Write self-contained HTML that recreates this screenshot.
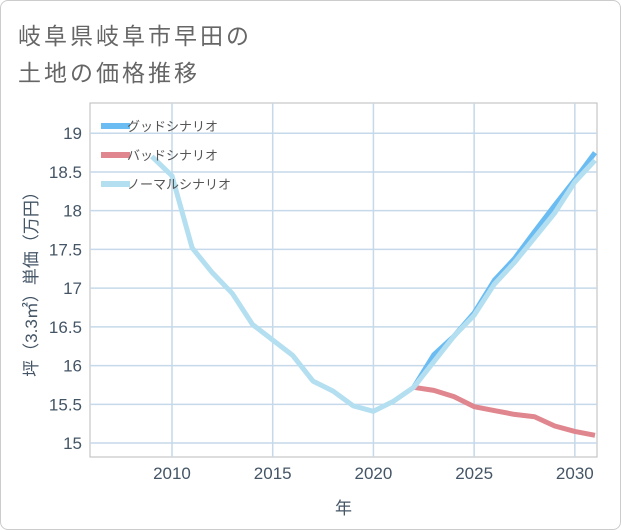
<!DOCTYPE html>
<html><head><meta charset="utf-8"><style>
body{margin:0;background:#fff;}
#wrap{position:relative;width:619px;height:528px;border:1px solid #ccc;border-radius:8px;background:#fff;overflow:hidden;font-family:"Liberation Sans","Noto Sans CJK JP",sans-serif;}
.title{position:absolute;left:17px;font-size:23px;color:#666;letter-spacing:3px;}
</style></head><body>
<div id="wrap">
<div class="title" style="top:16px">岐阜県岐阜市早田の</div>
<div class="title" style="top:53px">土地の価格推移</div>
<svg id="svg" width="621" height="530" style="position:absolute;left:-1px;top:-1px"></svg>
</div>
<script>
const years=[2009,2010,2011,2012,2013,2014,2015,2016,2017,2018,2019,2020,2021,2022,2023,2024,2025,2026,2027,2028,2029,2030,2031];
const normal=[18.7,18.45,17.52,17.2,16.93,16.53,16.33,16.13,15.8,15.67,15.48,15.41,15.54,15.72,16.05,16.38,16.65,17.05,17.33,17.65,17.97,18.37,18.65];
const goodYears=[2022,2023,2024,2025,2026,2027,2028,2029,2030,2031];
const good=[15.72,16.14,16.38,16.68,17.1,17.38,17.73,18.07,18.4,18.75];
const bad=[15.72,15.68,15.6,15.47,15.42,15.37,15.34,15.22,15.15,15.1];
const xTicks=[2010,2015,2020,2025,2030];
const yTicks=[15,15.5,16,16.5,17,17.5,18,18.5,19];
const L=90,R=597,T=103,B=457;
const x0=2005.93,x1=2031.1,y0=14.82,y1=19.39;
const X=v=>L+(v-x0)/(x1-x0)*(R-L);
const Y=v=>B-(v-y0)/(y1-y0)*(B-T);
const svg=document.getElementById('svg');
const NS='http://www.w3.org/2000/svg';
function mk(t,a,p){const e=document.createElementNS(NS,t);for(const k in a)e.setAttribute(k,a[k]);(p||svg).appendChild(e);return e;}
mk('rect',{x:L,y:T,width:R-L,height:B-T,fill:'#fff',stroke:'#bbb'});
for(const v of yTicks){
 const g=mk('line',{x1:L,x2:R,y1:Y(v),y2:Y(v),stroke:'#c5d9ea','stroke-width':1.5});
 
 const t=mk('text',{x:L-8,y:Y(v)+6,'text-anchor':'end','font-size':17,fill:'#456'});t.textContent=String(v);
 
}
for(const v of xTicks){
 const g=mk('line',{x1:X(v),x2:X(v),y1:T,y2:B,stroke:'#c5d9ea','stroke-width':1.5});
 
 const t=mk('text',{x:X(v),y:B+22,'text-anchor':'middle','font-size':17,fill:'#456'});t.textContent=String(v);
 
}
function line(xs,ys,c,n){
 const p=mk('polyline',{points:xs.map((x,i)=>X(x)+','+Y(ys[i])).join(' '),fill:'none',stroke:c,'stroke-width':5,'stroke-linejoin':'round'});
 
}
const clip=mk('clipPath',{id:'c'});mk('rect',{x:L,y:T,width:R-L,height:B-T},clip);
const g=mk('g',{'clip-path':'url(#c)'});
function lineG(xs,ys,c,n){
 const p=mk('polyline',{points:xs.map((x,i)=>X(x)+','+Y(ys[i])).join(' '),fill:'none',stroke:c,'stroke-width':5,'stroke-linejoin':'round'},g);
 
}
lineG(goodYears,good,'#6bbcf2','good-scenario-line');
lineG(goodYears,bad,'#e0868e','bad-scenario-line');
lineG(years,normal,'#b4dff0','normal-scenario-line');
const leg=[['グッドシナリオ','#6bbcf2'],['バッドシナリオ','#e0868e'],['ノーマルシナリオ','#b4dff0']];
leg.forEach((l,i)=>{
 const y=126+i*29;
 const s=mk('line',{x1:101,x2:130,y1:y,y2:y,stroke:l[1],'stroke-width':6});
 
 const t=mk('text',{x:127,y:y+5,'font-size':13,fill:'#555'});t.textContent=l[0];
 
});
const xt=mk('text',{x:(L+R)/2,y:514,'text-anchor':'middle','font-size':17,fill:'#456'});xt.textContent='年';

const yt=mk('text',{x:0,y:0,'text-anchor':'middle','font-size':17,fill:'#456',transform:'translate(37,'+((T+B)/2)+') rotate(-90)'});yt.textContent='坪（3.3㎡）単価（万円）';

</script>
</body></html>
